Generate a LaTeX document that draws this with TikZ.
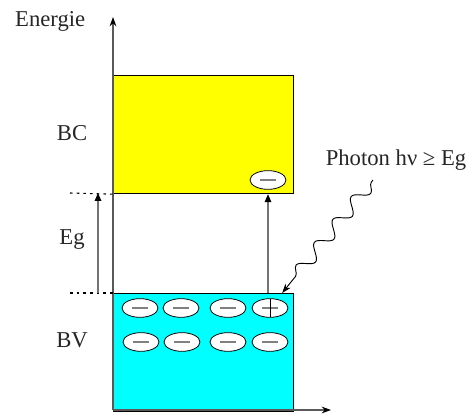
\documentclass[tikz,border=0pt]{standalone}
\usepackage{fontspec}
\setmainfont{Liberation Serif}
\usetikzlibrary{positioning,shapes.geometric,decorations.pathmorphing,arrows.meta}

\definecolor{bcyellow}{RGB}{255,255,0}
\definecolor{bvcyan}{RGB}{0,255,255}

\tikzset{
  band/.style={draw=black,line width=0.9pt,anchor=north west,inner sep=0pt,minimum width=135pt},
  carrier/.style={ellipse,draw=black,fill=white,line width=0.6pt,minimum width=27pt,minimum height=14pt,inner sep=0pt,
    path picture={\draw[gray,line width=1.2pt] ([xshift=-6pt]path picture bounding box.center) -- ([xshift=6pt]path picture bounding box.center);}},
  hole/.style={carrier,
    path picture={\draw[gray,line width=1.2pt] ([xshift=-6pt]path picture bounding box.center) -- ([xshift=6pt]path picture bounding box.center);
      \draw[black,line width=0.5pt] ([yshift=-7pt]path picture bounding box.center) -- ([yshift=7pt]path picture bounding box.center);}},
  axis/.style={draw=black!65,line width=1pt,-{Stealth[black,length=7pt,width=5pt]}},
  jump/.style={draw=black!55,line width=0.8pt,-{Triangle[black,length=6pt,width=5pt]}},
  level/.style={black,line width=0.8pt,dash pattern=on 2pt off 3pt},
  lbl/.style={font=\fontsize{17}{20}\selectfont,text=black!85}
}

\begin{document}
\begin{tikzpicture}[x=0.75pt,y=-0.75pt]
\useasboundingbox (0,0) rectangle (475,420);
% energy bands
\node[band,fill=bcyellow,minimum height=88.5pt] (bc) at (113,75) {};
\node[band,fill=bvcyan,minimum height=88pt] (bv) at (113,293) {};
% axes
\coordinate (o) at (113,410);
\draw[axis] (o) -- (113,17) node[coordinate] (ytip) {};
\draw[axis] (o) -- (331,410) node[coordinate] (xtip) {};
\node[lbl,anchor=east] (energie) at (90,21) {Energie};
% band labels
\node[lbl] (bclbl) at (72,133) {BC};
\node[lbl] (eglbl) at (72,240) {Eg};
\node[lbl] (bvlbl) at (72,340) {BV};
% gap
\coordinate (gtop) at (70,193);
\coordinate (gbot) at (70,293);
\draw[level] (gtop) -- (bc.south west);
\draw[level] (gbot) -- (bv.north west);
\draw[jump] ([xshift=28*0.75pt]gbot) -- ([xshift=28*0.75pt]gtop);
% electrons
\node[carrier] (e0) at (268,180) {};
\foreach \i/\x in {1/140,2/181,3/228} {
  \node[carrier] (a\i) at (\x,308) {};
}
\node[hole] (h) at (270,308) {};
\foreach \i/\x in {1/141,2/182,3/228,4/270} {
  \node[carrier] (b\i) at (\x,342) {};
}
% excitation
\draw[jump] (bv.north -| e0) -- (bc.south -| e0);
% photon
\node[lbl] (photon) at (396,160) {Photon hν ≥ Eg};
\coordinate (pstart) at (373,180);
\draw[black,line width=0.7pt,-{Stealth[length=7pt,width=5pt]},
  decorate,decoration={snake,amplitude=5pt,segment length=22pt,pre length=2pt,post length=8pt}]
  (pstart) -- ([xshift=-12*0.75pt]bv.north east);
\end{tikzpicture}
\end{document}
